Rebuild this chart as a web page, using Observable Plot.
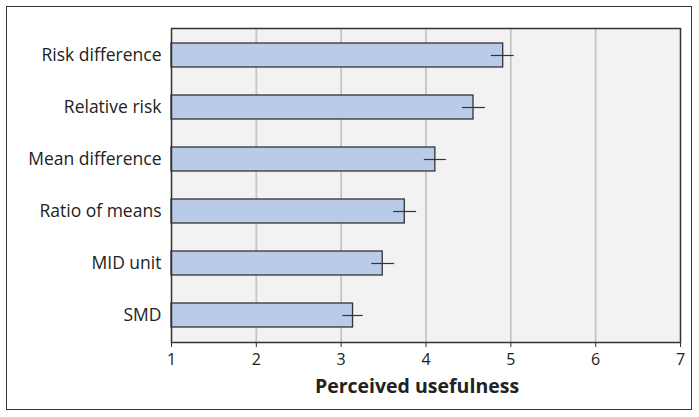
<!DOCTYPE html>
<html>
<head>
<meta charset="utf-8">
<script src="https://cdn.jsdelivr.net/npm/d3@7"></script>
<script src="https://cdn.jsdelivr.net/npm/@observablehq/plot@0.6"></script>
<style>
  html, body { margin: 0; padding: 0; background: #fff; }
  #wrap { position: relative; width: 699px; height: 417px; }
  #border { position: absolute; left: 6px; top: 6px; width: 684px; height: 402px; border: 1.5px solid #333; pointer-events: none; }
  #chart { position: absolute; left: 0; top: 0; }
</style>
</head>
<body>
<div id="wrap"><div id="chart"></div><div id="border"></div></div>
<script>
const categories = ["Risk difference", "Relative risk", "Mean difference", "Ratio of means", "MID unit", "SMD"];
const means = [4.91, 4.56, 4.11, 3.75, 3.49, 3.14];
const lower = [4.77, 4.43, 3.98, 3.62, 3.36, 3.02];
const upper = [5.04, 4.70, 4.24, 3.89, 3.63, 3.26];
const xTicks = [1, 2, 3, 4, 5, 6, 7];
const gridValues = [2, 3, 4, 5, 6];
const xLabel = "Perceived usefulness";

const data = categories.map((c, i) => ({cat: c, mean: means[i], lo: lower[i], hi: upper[i]}));
const base = xTicks[0];

const chart = Plot.plot({
  width: 699,
  height: 417,
  marginLeft: 171,
  marginRight: 19,
  marginTop: 28,
  marginBottom: 75,
  style: {fontFamily: "'Open Sans', sans-serif", fontSize: "15px", color: "#222", background: "transparent"},
  x: {domain: [1, 7], ticks: xTicks, tickFormat: d => String(d)},
  y: {domain: categories, paddingInner: 0.54, paddingOuter: 0.27},
  marks: [
    Plot.frame({fill: "#f2f2f2", stroke: null}),
    Plot.ruleX(gridValues, {stroke: "#c6c6c6", strokeWidth: 1.8}),
    Plot.barX(data, {y: "cat", x1: d => base, x2: "mean", fill: "#b9cbe9", stroke: "#333", strokeWidth: 1.3}),
    Plot.ruleY(data, {y: "cat", x1: "lo", x2: "hi", stroke: "#333", strokeWidth: 1.2}),
    Plot.frame({stroke: "#333", strokeWidth: 1.5}),
    Plot.axisX({ticks: xTicks, tickFormat: d => String(d), tickSize: 5, tickPadding: 6, fontSize: 16, label: null, stroke: "#333"}),
    Plot.axisY({tickSize: 0, tickPadding: 10, fontSize: 17.5, label: null}),
    Plot.text([xLabel], {frameAnchor: "bottom", dy: 50, dx: -9, fontWeight: "bold", fontSize: 19.5, fill: "#222"})
  ]
});
document.getElementById("chart").appendChild(chart);
</script>
</body>
</html>
